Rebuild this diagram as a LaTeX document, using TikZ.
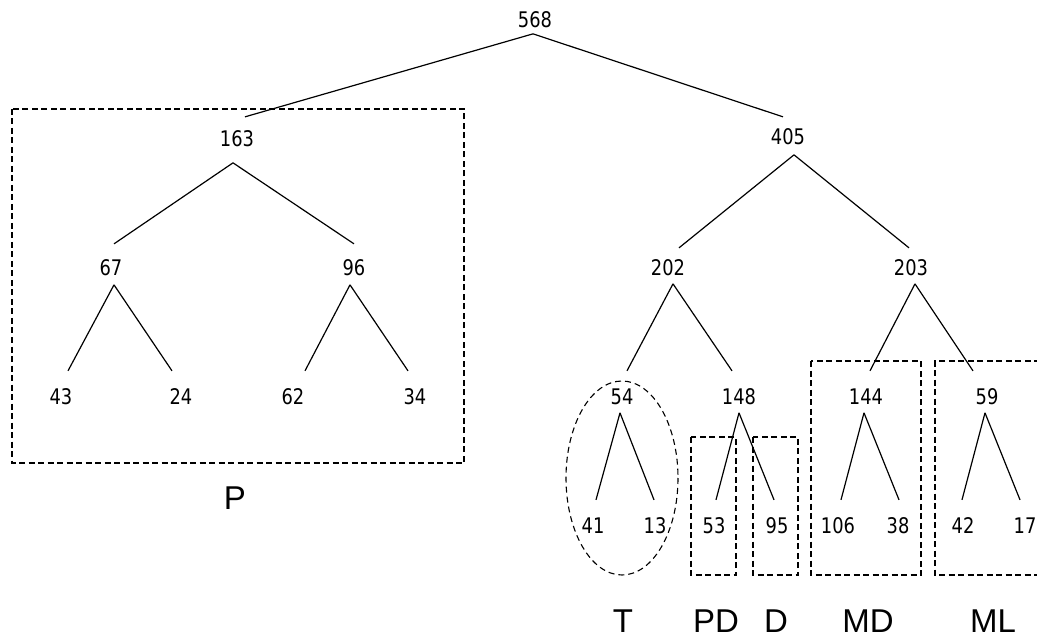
\documentclass[tikz,border=0pt]{standalone}
\usepackage{fontspec}
\setmainfont{Liberation Sans}
\newfontfamily\numfont{DejaVu Sans}[FakeStretch=0.83]
\begin{document}
\begin{tikzpicture}[x=1pt,y=-1pt,
  num/.style={inner sep=0pt, anchor=base, font=\numfont\fontsize{21.5}{24}\selectfont},
  lbl/.style={inner sep=0pt, anchor=base, font=\fontsize{33}{36}\selectfont},
  edge/.style={line width=1.2pt, line cap=butt},
  grp/.style={line width=1.4pt, dash pattern=on 6pt off 3.5pt},
  grpe/.style={line width=1.1pt, dash pattern=on 6pt off 4pt}]
\useasboundingbox (0,0) rectangle (1037,639);
% numbers (base = text centre + 7.85)
\node[num] (n568) at (535,27.85) {568};
\node[num] (n163) at (237,146.85) {163};
\node[num] (n405) at (788,144.85) {405};
\node[num] (n67) at (111,275.85) {67};
\node[num] (n96) at (354,275.85) {96};
\node[num] (n202) at (668,275.85) {202};
\node[num] (n203) at (911,275.85) {203};
\node[num] (n43) at (61,404.85) {43};
\node[num] (n24) at (181,404.85) {24};
\node[num] (n62) at (293,404.85) {62};
\node[num] (n34) at (415,404.85) {34};
\node[num] (n54) at (622,404.85) {54};
\node[num] (n148) at (739,404.85) {148};
\node[num] (n144) at (866,404.85) {144};
\node[num] (n59) at (987,404.85) {59};
\node[num] (n41) at (593,533.85) {41};
\node[num] (n13) at (655,533.85) {13};
\node[num] (n53) at (714,533.85) {53};
\node[num] (n95) at (777,533.85) {95};
\node[num] (n106) at (838,533.85) {106};
\node[num] (n38) at (898,533.85) {38};
\node[num] (n42) at (963,533.85) {42};
\node[num] (n17) at (1025,533.85) {17};
% connectors (shifts relative to text base)
\draw[edge] ([shift={(-2,6)}]n568.base) -- ([shift={(8,-30)}]n163.base);
\draw[edge] ([shift={(-2,6)}]n568.base) -- ([shift={(-5,-28)}]n405.base);
\draw[edge] ([shift={(-4,16)}]n163.base) -- ([shift={(3,-32)}]n67.base);
\draw[edge] ([shift={(-4,16)}]n163.base) -- ([shift={(0,-32)}]n96.base);
\draw[edge] ([shift={(6,10)}]n405.base) -- ([shift={(11,-28)}]n202.base);
\draw[edge] ([shift={(6,10)}]n405.base) -- ([shift={(-2,-28)}]n203.base);
\draw[edge] ([shift={(3,9)}]n67.base) -- ([shift={(7,-34)}]n43.base);
\draw[edge] ([shift={(3,9)}]n67.base) -- ([shift={(-9,-34)}]n24.base);
\draw[edge] ([shift={(-4,9)}]n96.base) -- ([shift={(12,-34)}]n62.base);
\draw[edge] ([shift={(-4,9)}]n96.base) -- ([shift={(-7,-34)}]n34.base);
\draw[edge] ([shift={(5,8)}]n202.base) -- ([shift={(5,-34)}]n54.base);
\draw[edge] ([shift={(5,8)}]n202.base) -- ([shift={(-7,-34)}]n148.base);
\draw[edge] ([shift={(4,8)}]n203.base) -- ([shift={(4,-34)}]n144.base);
\draw[edge] ([shift={(4,8)}]n203.base) -- ([shift={(-14,-34)}]n59.base);
\draw[edge] ([shift={(-2,8)}]n54.base) -- ([shift={(3,-34)}]n41.base);
\draw[edge] ([shift={(-2,8)}]n54.base) -- ([shift={(-1,-34)}]n13.base);
\draw[edge] ([shift={(0,8)}]n148.base) -- ([shift={(2,-34)}]n53.base);
\draw[edge] ([shift={(0,8)}]n148.base) -- ([shift={(-3,-34)}]n95.base);
\draw[edge] ([shift={(-2,8)}]n144.base) -- ([shift={(3,-34)}]n106.base);
\draw[edge] ([shift={(-2,8)}]n144.base) -- ([shift={(1,-34)}]n38.base);
\draw[edge] ([shift={(-2,8)}]n59.base) -- ([shift={(-1,-34)}]n42.base);
\draw[edge] ([shift={(-2,8)}]n59.base) -- ([shift={(-5,-34)}]n17.base);
% groups
\draw[grp] (12,109) rectangle (464,463);
\draw[grpe] (622,478) ellipse [x radius=56, y radius=97];
\draw[grp] (691,437) rectangle (736,575);
\draw[grp] (753,437) rectangle (798,575);
\draw[grp] (811,361) rectangle (921,575);
\draw[grp] (1040,361) -- (935,361) -- (935,575) -- (1040,575);
% labels
\node[lbl] (lP) at (235,509) {P};
\node[lbl] (lT) at (623,632) {T};
\node[lbl] (lPD) at (716,632) {PD};
\node[lbl] (lD) at (776,632) {D};
\node[lbl] (lMD) at (868,632) {MD};
\node[lbl] (lML) at (993,632) {ML};
\end{tikzpicture}
\end{document}
